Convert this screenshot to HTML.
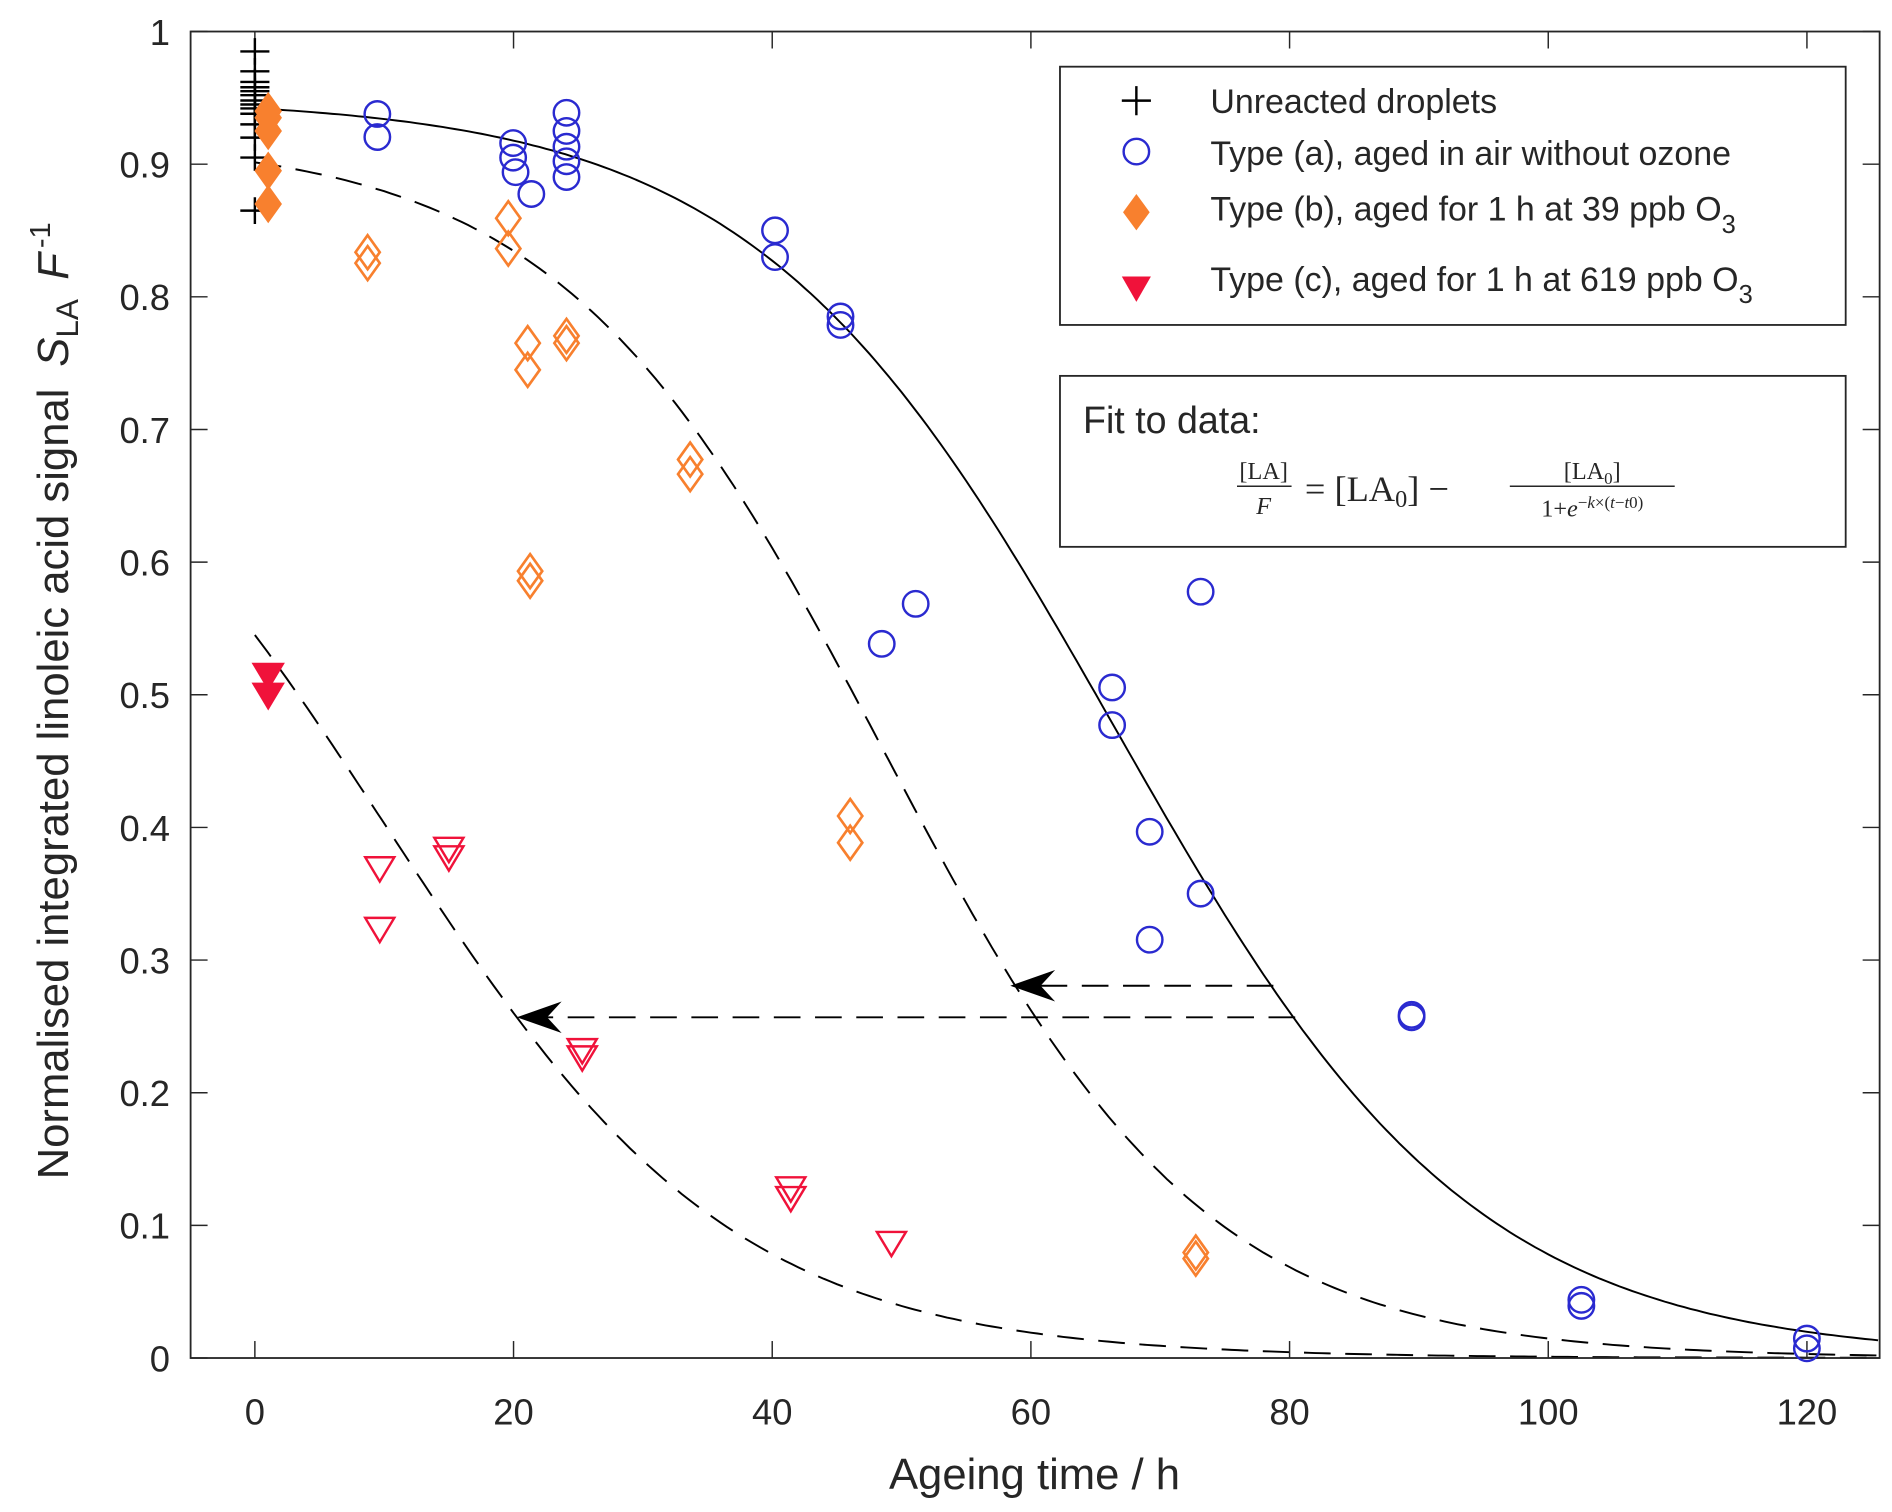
<!DOCTYPE html>
<html><head><meta charset="utf-8"><style>
html,body{margin:0;padding:0;background:#fff}
svg{display:block}
text{font-family:"Liberation Sans",sans-serif;fill:#262626}
</style></head><body>
<svg id="s" width="1892" height="1512" viewBox="0 0 1560 1247" xmlns="http://www.w3.org/2000/svg">
<rect x="0" y="0" width="1560" height="1247" fill="#fff"/>
<g id="curves" fill="none" stroke="#000" stroke-width="1.6"></g>
<g id="ticks" stroke="#262626" stroke-width="1.2"></g>
<rect x="157" y="26" width="1393" height="1094" fill="none" stroke="#262626" stroke-width="1.5"/>
<g id="labels" font-size="30"></g>
<g id="pts"></g>
<g stroke="#000" stroke-width="1.6" fill="none" stroke-dasharray="22,12">
<line x1="1050" y1="813" x2="845" y2="813"/>
<line x1="1068" y1="839" x2="440" y2="839"/>
</g>
<path d="M833,813 L870,800 L858,813 L870,826 Z" fill="#000"/>
<path d="M426,839 L463,826 L451,839 L463,852 Z" fill="#000"/>
<text x="853" y="1228" font-size="36" text-anchor="middle">Ageing time / h</text>
<text transform="translate(56,578) rotate(-90)" font-size="36" text-anchor="middle">Normalised integrated linoleic acid signal <tspan font-style="italic" dx="8">S</tspan><tspan font-size="26" dy="8">LA</tspan><tspan dy="-8" dx="16" font-style="italic">F</tspan><tspan font-size="24" dy="-15" dx="4">-1</tspan></text>
<rect x="874" y="55" width="648" height="213" fill="#fff" stroke="#262626" stroke-width="1.5"/>
<g font-size="28">
<text x="998" y="93">Unreacted droplets</text>
<text x="998" y="136">Type (a), aged in air without ozone</text>
<text x="998" y="182">Type (b), aged for 1 h at 39 ppb O<tspan font-size="21" dy="10">3</tspan></text>
<text x="998" y="240">Type (c), aged for 1 h at 619 ppb O<tspan font-size="21" dy="10">3</tspan></text>
</g>
<path d="M937,71 V95 M925,83 H949" stroke="#000" stroke-width="2"/>
<circle cx="937" cy="125" r="10.5" fill="none" stroke="#2a2ad0" stroke-width="2"/>
<path d="M937,160 L948,175 L937,190 L926,175 Z" fill="#f8802e"/>
<path d="M925,228 L949,228 L937,249 Z" fill="#f0123a"/>
<rect x="874" y="310" width="648" height="141" fill="#fff" stroke="#262626" stroke-width="1.5"/>
<text x="893" y="357" font-size="31">Fit to data:</text>
<g>
<text x="1042" y="395" font-size="20" text-anchor="middle" style="font-family:'Liberation Serif',serif">[LA]</text>
<line x1="1020" y1="401" x2="1065" y2="401" stroke="#262626" stroke-width="1.2"/>
<text x="1042" y="424" font-size="20" font-style="italic" text-anchor="middle" style="font-family:'Liberation Serif',serif">F</text>
<text x="1076" y="413" font-size="30" style="font-family:'Liberation Serif',serif">= [LA<tspan font-size="20" dy="5">0</tspan><tspan dy="-5">] −</tspan></text>
<text x="1313" y="395" font-size="20" text-anchor="middle" style="font-family:'Liberation Serif',serif">[LA<tspan font-size="14" dy="4">0</tspan><tspan dy="-4">]</tspan></text>
<line x1="1245" y1="401" x2="1381" y2="401" stroke="#262626" stroke-width="1.2"/>
<text x="1313" y="426" font-size="20" text-anchor="middle" style="font-family:'Liberation Serif',serif">1+<tspan font-style="italic">e</tspan><tspan font-size="14" dy="-7">−<tspan font-style="italic">k</tspan>×(<tspan font-style="italic">t</tspan>−<tspan font-style="italic">t</tspan>0)</tspan></text>
</g>
</svg>
<script>
var NS="http://www.w3.org/2000/svg";
function X(t){return 210+10.667*t}
function Y(v){return 1120-1094*v}
function el(p,n,a){var e=document.createElementNS(NS,n);for(var k in a)e.setAttribute(k,a[k]);p.appendChild(e);return e}
var cg=document.getElementById('curves');
function curve(A,k,t0,dash){var d="";for(var t=0;t<=125.6;t+=0.5){var v=A/(1+Math.exp(k*(t-t0)));d+=(t==0?"M":"L")+X(t).toFixed(1)+","+Y(v).toFixed(1)}
var a={d:d};if(dash)a["stroke-dasharray"]="22,12";el(cg,"path",a)}
curve(0.95,0.072,66.5,false);
curve(0.92,0.08,48.5,true);
curve(0.8,0.0745,10.2,true);
var tg=document.getElementById('ticks'),lg=document.getElementById('labels');
for(var i=0;i<=6;i++){var x=X(20*i);el(tg,"line",{x1:x,y1:1120,x2:x,y2:1106});el(tg,"line",{x1:x,y1:26,x2:x,y2:40});
var t=el(lg,"text",{x:x,y:1175,"text-anchor":"middle"});t.textContent=String(20*i)}
for(var i=0;i<=10;i++){var y=Y(i/10);el(tg,"line",{x1:157,y1:y,x2:171,y2:y});el(tg,"line",{x1:1550,y1:y,x2:1536,y2:y});
var t=el(lg,"text",{x:140,y:y+11,"text-anchor":"end"});t.textContent=i==0?"0":i==10?"1":"0."+i}
var pg=document.getElementById('pts');
[0.985,0.97,0.962,0.958,0.955,0.952,0.948,0.945,0.942,0.938,0.93,0.92,0.905,0.865].forEach(function(v){var y=Y(v);el(pg,"path",{d:"M198,"+y+"H222M210,"+(y-11)+"V"+(y+11),stroke:"#000","stroke-width":2})});
[[311,94],[311,113],[423,118],[423,130],[425,142],[438,160],[467,93],[467,108],[467,121],[467,133],[467,146],[639,190],[639,212],[693,261],[693,268],[727,531],[755,498],[917,567],[917,598],[948,686],[948,775],[990,488],[990,737],[1164,837],[1164,839],[1304,1072],[1304,1077],[1490,1104],[1490,1112]].forEach(function(p){el(pg,"circle",{cx:p[0],cy:p[1],r:10.5,fill:"none",stroke:"#2a2ad0","stroke-width":2})});
function dia(x,y,f){el(pg,"path",{d:"M"+x+","+(y-14)+"L"+(x+10)+","+y+"L"+x+","+(y+14)+"L"+(x-10)+","+y+"Z",fill:f?"#f8802e":"none",stroke:"#f8802e","stroke-width":2.2})}
[[303,208],[303,217],[419,180],[419,205],[435,283],[435,305],[467,277],[467,283],[569,379],[569,391],[437,471],[437,479],[701,673],[701,695],[986,1033],[986,1038]].forEach(function(p){dia(p[0],p[1],false)});
[0.94,0.935,0.925,0.895,0.87].forEach(function(v){dia(221,Y(v),true)});
function tri(x,y,f){el(pg,"path",{d:"M"+(x-12)+","+(y-9)+"L"+(x+12)+","+(y-9)+"L"+x+","+(y+11)+"Z",fill:f?"#f0123a":"none",stroke:"#f0123a","stroke-width":2})}
[[313,716],[313,766],[370,700],[370,707],[480,866],[480,872],[652,980],[652,988],[735,1025]].forEach(function(p){tri(p[0],p[1],false)});
[0.515,0.5].forEach(function(v){tri(221,Y(v),true)});
</script>
</body></html>
